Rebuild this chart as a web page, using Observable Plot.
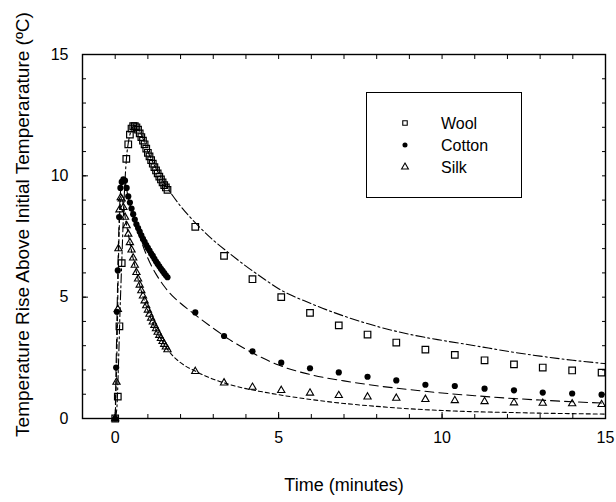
<!DOCTYPE html>
<html><head><meta charset="utf-8">
<script src="https://cdn.jsdelivr.net/npm/d3@7"></script>
<script src="https://cdn.jsdelivr.net/npm/@observablehq/plot@0.6"></script>
<style>
body{margin:0;background:#fff;font-family:"Liberation Sans",Arial,Helvetica,sans-serif;}
#wrap{position:relative;width:616px;height:502px;}
#legend{position:absolute;left:366px;top:92px;}
</style></head><body><div id="wrap"></div>
<script>
// ---- measured data (time in minutes, temperature rise in °C) ----
const sparseT = [2.45, 3.33, 4.2, 5.08, 5.96, 6.84, 7.72, 8.6, 9.49, 10.39, 11.3, 12.2, 13.08, 13.98, 14.88];

const woolT = [0, 0.08, 0.13, 0.2, 0.34, 0.4, 0.45, 0.5, 0.55, 0.6,
  0.65, 0.7, 0.75, 0.8, 0.85, 0.9, 0.95, 1.0, 1.05, 1.1, 1.15, 1.2, 1.25, 1.3, 1.35, 1.4, 1.45, 1.5, 1.55, 1.6];
const woolV = [0, 0.9, 3.8, 6.4, 10.7, 11.3, 11.7, 11.95, 12.05, 12.05,
  12.0, 11.9, 11.75, 11.6, 11.45, 11.3, 11.12, 10.95, 10.8, 10.65, 10.5, 10.36, 10.22, 10.1, 9.97, 9.85, 9.73, 9.62, 9.52, 9.42];
const woolSparse = [7.9, 6.7, 5.74, 5.0, 4.35, 3.84, 3.46, 3.13, 2.84, 2.62, 2.4, 2.23, 2.1, 1.98, 1.89];

const cottonT = [0, 0.03, 0.05, 0.08, 0.12, 0.16,
  0.2, 0.25, 0.3, 0.35, 0.4, 0.45, 0.5, 0.55, 0.6, 0.65, 0.7, 0.75, 0.8, 0.85, 0.9, 0.95, 1.0,
  1.05, 1.1, 1.15, 1.2, 1.25, 1.3, 1.35, 1.4, 1.45, 1.5, 1.55, 1.6];
const cottonV = [0, 2.1, 4.4, 6.1, 8.3, 9.5,
  9.75, 9.85, 9.8, 9.5, 9.15, 8.9, 8.65, 8.42, 8.2, 8.0, 7.85, 7.7, 7.55, 7.4, 7.28, 7.15, 7.03,
  6.92, 6.8, 6.7, 6.58, 6.47, 6.37, 6.27, 6.17, 6.08, 5.99, 5.9, 5.82];
const cottonSparse = [4.37, 3.4, 2.77, 2.3, 2.07, 1.9, 1.72, 1.57, 1.39, 1.34, 1.23, 1.16, 1.07, 1.03, 0.98];

const silkT = [0, 0.04, 0.08, 0.1, 0.13, 0.17, 0.2,
  0.25, 0.3, 0.35, 0.4, 0.45, 0.5, 0.55, 0.6, 0.65, 0.7, 0.75, 0.8, 0.85, 0.9, 0.95, 1.0,
  1.05, 1.1, 1.15, 1.2, 1.25, 1.3, 1.35, 1.4, 1.45, 1.5, 1.55, 1.6];
const silkV = [0, 1.5, 4.5, 7.0, 8.6, 9.1, 9.05,
  8.7, 8.3, 7.95, 7.6, 7.25, 6.95, 6.62, 6.32, 6.02, 5.75, 5.5, 5.27, 5.05, 4.85, 4.65, 4.47,
  4.3, 4.14, 3.98, 3.84, 3.7, 3.56, 3.43, 3.3, 3.18, 3.06, 2.95, 2.84];
const silkSparse = [1.94, 1.47, 1.29, 1.16, 1.05, 0.95, 0.89, 0.84, 0.79, 0.74, 0.7, 0.65, 0.63, 0.61, 0.58];

// ---- fitted curves ----
const fitT = [0, 0.05, 0.1, 0.15, 0.2, 0.25, 0.3, 0.35, 0.4, 0.5, 0.6, 0.7, 0.8, 1.0, 1.25, 1.5, 1.75,
  2.0, 2.5, 3.0, 3.5, 4.0, 4.5, 5, 6, 7, 8, 9, 10, 11, 12, 13, 14, 15];
const woolFit = [0, 0.4, 2.2, 4.5, 6.4, 8.3, 9.8, 10.8, 11.35, 11.9, 12.08, 11.95, 11.7, 11.0, 10.3, 9.7, 9.2,
  8.75, 8.0, 7.35, 6.8, 6.28, 5.8, 5.35, 4.73, 4.22, 3.8, 3.47, 3.22, 3.0, 2.77, 2.57, 2.4, 2.26];
const cottonFit = [0, 3.8, 7.2, 9.1, 9.7, 9.85, 9.75, 9.45, 9.1, 8.6, 8.1, 7.7, 7.3, 6.6, 5.95, 5.45, 5.05,
  4.75, 4.22, 3.72, 3.25, 2.85, 2.5, 2.2, 1.8, 1.55, 1.35, 1.19, 1.05, 0.94, 0.84, 0.76, 0.69, 0.63];
const silkFit = [0, 2.5, 6.5, 8.7, 9.1, 8.8, 8.35, 7.95, 7.6, 6.9, 6.3, 5.75, 5.25, 4.45, 3.65, 3.05, 2.6,
  2.3, 1.92, 1.62, 1.4, 1.23, 1.1, 0.98, 0.78, 0.62, 0.5, 0.4, 0.33, 0.28, 0.25, 0.22, 0.2, 0.18];

const xMajorTicks = [0, 5, 10, 15];
const yMajorTicks = [0, 5, 10, 15];
const xMinorTicks = d3.range(-1, 16, 1);
const yMinorTicks = d3.range(0, 16, 1);

const seriesNames = ["Wool", "Cotton", "Silk"];
const xTitle = "Time (minutes)";
const yTitle = "Temperature Rise Above Initial Temperarature (ºC)";

// ---- build tables ----
const pts = (T, V) => T.map((t, i) => ({t, v: V[i]}));
const woolPts = pts(woolT, woolV).concat(pts(sparseT, woolSparse));
const cottonPts = pts(cottonT, cottonV).concat(pts(sparseT, cottonSparse));
const silkPts = pts(silkT, silkV).concat(pts(sparseT, silkSparse));
const woolLine = pts(fitT, woolFit), cottonLine = pts(fitT, cottonFit), silkLine = pts(fitT, silkFit);

const noText = () => "";
const chart = Plot.plot({
  width: 616, height: 502,
  marginLeft: 82, marginRight: 11, marginTop: 54, marginBottom: 84,
  style: {fontFamily: '"Liberation Sans", Arial, Helvetica, sans-serif', fontSize: "16px", color: "black", background: "white"},
  x: {domain: [-1, 15], label: null},
  y: {domain: [0, 15], label: null},
  marks: [
    Plot.line(woolLine, {x: "t", y: "v", curve: "monotone-x", stroke: "black", strokeWidth: 1.1, strokeDasharray: "9,3,2,3"}),
    Plot.line(cottonLine, {x: "t", y: "v", curve: "monotone-x", stroke: "black", strokeWidth: 1.1, strokeDasharray: "9,5"}),
    Plot.line(silkLine, {x: "t", y: "v", curve: "monotone-x", stroke: "black", strokeWidth: 1.1, strokeDasharray: "4,3"}),
    Plot.dot(woolPts, {x: "t", y: "v", symbol: "square", r: 3.7, stroke: "black", fill: "none", strokeWidth: 1.2}),
    Plot.dot(cottonPts, {x: "t", y: "v", symbol: "circle", r: 3.1, fill: "black", stroke: "none"}),
    Plot.dot(silkPts, {x: "t", y: "v", symbol: "triangle", r: 2.7, stroke: "black", fill: "none", strokeWidth: 1.1}),
    Plot.frame({stroke: "black", strokeWidth: 1.4}),
    // tick labels and titles
    Plot.axisX(xMajorTicks, {tickSize: 0, tickPadding: 13, label: xTitle, labelAnchor: "center", labelOffset: 72, labelArrow: "none", fontSize: 16}),
    Plot.axisY(yMajorTicks, {tickSize: 0, tickPadding: 14, label: yTitle, labelAnchor: "center", labelOffset: 67, labelArrow: "none", fontSize: 16}),
    // inward ticks on all sides
    Plot.axisX(xMinorTicks, {anchor: "bottom", tickSize: -4, tickFormat: noText, label: null}),
    Plot.axisX(xMinorTicks, {anchor: "top", tickSize: -4, tickFormat: noText, label: null}),
    Plot.axisY(yMinorTicks, {anchor: "left", tickSize: -4, tickFormat: noText, label: null}),
    Plot.axisY(yMinorTicks, {anchor: "right", tickSize: -4, tickFormat: noText, label: null}),
    Plot.axisX(xMajorTicks, {anchor: "bottom", tickSize: -6, tickFormat: noText, label: null}),
    Plot.axisY(yMajorTicks, {anchor: "left", tickSize: -6, tickFormat: noText, label: null})
  ]
});
// larger axis titles
d3.select(chart).selectAll('g[aria-label="x-axis label"] text').attr("font-size", 18);
const yl = d3.select(chart).select('g[aria-label="y-axis label"]');
yl.selectAll("text").attr("font-size", 19);
yl.attr("transform", (yl.attr("transform") || "") + " translate(0,-12)");
const wrap = document.getElementById("wrap");
wrap.appendChild(chart);

// ---- legend (HTML overlay) ----
const lg = d3.select(wrap).append("svg").attr("id", "legend")
  .attr("width", 156).attr("height", 106);
lg.append("rect").attr("x", 0.5).attr("y", 0.5).attr("width", 155).attr("height", 105)
  .attr("fill", "white").attr("stroke", "black").attr("stroke-width", 1);
const rowsY = [31, 53, 75];
const sym = [d3.symbolSquare, d3.symbolCircle, d3.symbolTriangle];
const fills = ["none", "black", "none"];
seriesNames.forEach((name, i) => {
  lg.append("path").attr("d", d3.symbol(sym[i], 20)())
    .attr("transform", `translate(39,${rowsY[i]})`)
    .attr("fill", fills[i]).attr("stroke", fills[i] === "none" ? "black" : "none").attr("stroke-width", 1.1);
  lg.append("text").attr("x", 75).attr("y", rowsY[i]).attr("dy", "0.35em")
    .attr("font-size", 16).attr("font-family", '"Liberation Sans", Arial, sans-serif').text(name);
});
</script></body></html>
